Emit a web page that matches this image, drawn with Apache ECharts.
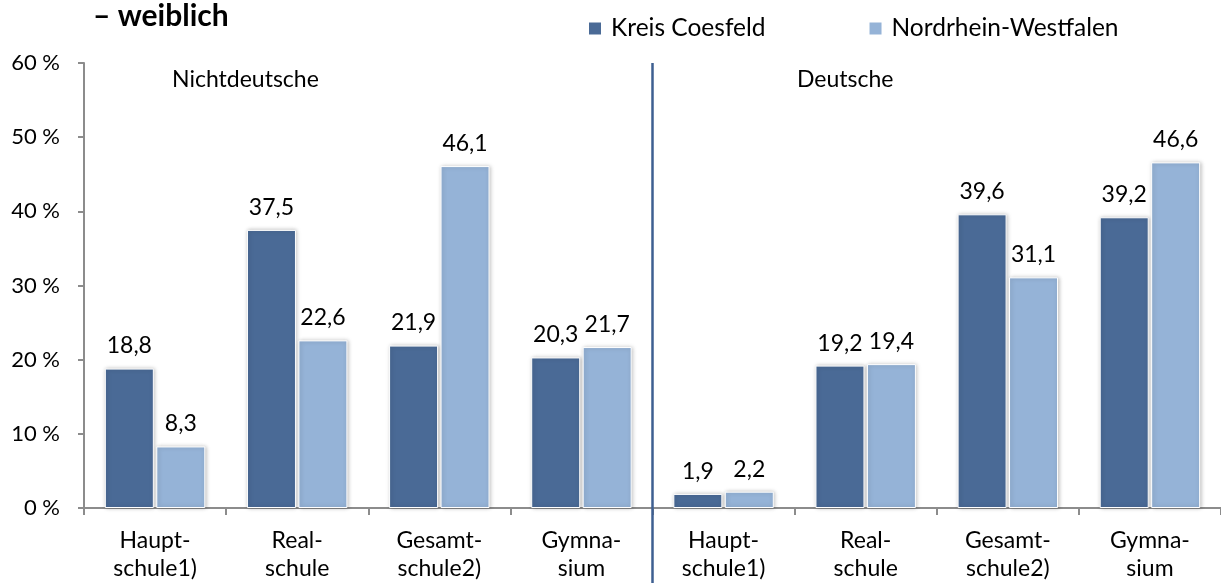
<!DOCTYPE html>
<html>
<head>
<meta charset="utf-8">
<script src="https://cdn.jsdelivr.net/npm/echarts@6/dist/echarts.min.js"></script>
<style>
  html, body { margin: 0; padding: 0; background: #fff; }
  #chart { width: 1221px; height: 583px; }
</style>
</head>
<body>
<div id="chart"></div>
<script>
// Daten
const categories = ['Haupt-\nschule1)', 'Real-\nschule', 'Gesamt-\nschule2)', 'Gymna-\nsium',
                    'Haupt-\nschule1)', 'Real-\nschule', 'Gesamt-\nschule2)', 'Gymna-\nsium']
const kreisCoesfeld = [18.8, 37.5, 21.9, 20.3, 1.9, 19.2, 39.6, 39.2]
const nrw = [8.3, 22.6, 46.1, 21.7, 2.2, 19.4, 31.1, 46.6]
const yTicks = [0, 10, 20, 30, 40, 50, 60]
const seriesNames = ['Kreis Coesfeld', 'Nordrhein-Westfalen']

const font = 'Lato, "Open Sans", sans-serif'
const dark = '#4a6a96'
const light = '#95b3d7'

let myChart = echarts.init(document.getElementById('chart'))

const barStyle = (color) => ({
    color: color,
    borderColor: '#ffffff',
    borderWidth: 1,
    shadowColor: 'rgba(0,0,0,0.25)',
    shadowBlur: 4,
    shadowOffsetX: 1,
    shadowOffsetY: 0
})

const labelStyle = {
    show: true,
    position: 'top',
    distance: 11,
    color: '#000',
    fontFamily: font,
    fontSize: 23,
    formatter: (p) => p.value.toFixed(1).replace('.', ',')
}

let option = {
    animation: false,
    title: {
        text: '– weiblich',
        left: 88,
        top: -4,
        textStyle: { fontFamily: font, fontSize: 30, fontWeight: 'bold', color: '#000' }
    },
    legend: {
        data: seriesNames,
        left: 582,
        top: 11,
        itemWidth: 14,
        itemHeight: 14,
        itemGap: 102,
        icon: 'rect',
        textStyle: { fontFamily: font, fontSize: 24.5, color: '#000', padding: [0, 0, 0, 4] }
    },
    grid: {
        left: 84,
        right: -2,
        top: 63,
        bottom: 75,
        containLabel: false
    },
    xAxis: {
        type: 'category',
        data: categories,
        axisLine: { lineStyle: { color: '#8c8c8c', width: 2 } },
        axisTick: { show: true, length: 7, lineStyle: { color: '#8c8c8c', width: 2 } },
        axisLabel: {
            color: '#000',
            fontFamily: font,
            fontSize: 23,
            lineHeight: 28,
            margin: 19,
            interval: 0
        }
    },
    yAxis: {
        type: 'value',
        min: yTicks[0],
        max: yTicks[yTicks.length - 1],
        interval: 10,
        axisLine: { show: true, lineStyle: { color: '#8c8c8c', width: 2 } },
        axisTick: { show: true, length: 6, lineStyle: { color: '#8c8c8c', width: 2 } },
        splitLine: { show: false },
        axisLabel: {
            color: '#000',
            fontFamily: font,
            fontSize: 22,
            margin: 24,
            formatter: (v) => v + ' %'
        }
    },
    series: [
        {
            name: seriesNames[0],
            type: 'bar',
            data: kreisCoesfeld,
            barWidth: 49,
            barGap: '5%',
            itemStyle: barStyle(dark),
            label: labelStyle
        },
        {
            name: seriesNames[1],
            type: 'bar',
            data: nrw,
            barWidth: 49,
            barGap: '5%',
            itemStyle: barStyle(light),
            label: labelStyle
        }
    ]
}

myChart.setOption(option)

// Trennlinie zwischen Nichtdeutsche und Deutsche
const x3 = myChart.convertToPixel({ xAxisIndex: 0 }, 3)
const x4 = myChart.convertToPixel({ xAxisIndex: 0 }, 4)
const divX = (x3 + x4) / 2
const yTop = myChart.convertToPixel({ yAxisIndex: 0 }, 60)

myChart.setOption({
    graphic: [
        {
            type: 'line',
            shape: { x1: divX, y1: yTop, x2: divX, y2: 583 },
            style: { stroke: '#3e5f91', lineWidth: 2.5 },
            z: 10
        },
        {
            type: 'text',
            left: 172,
            top: 68,
            style: { text: 'Nichtdeutsche', fontFamily: font, fontSize: 23, fill: '#000' }
        },
        {
            type: 'text',
            left: 797,
            top: 68,
            style: { text: 'Deutsche', fontFamily: font, fontSize: 23, fill: '#000' }
        }
    ]
})
</script>
</body>
</html>
